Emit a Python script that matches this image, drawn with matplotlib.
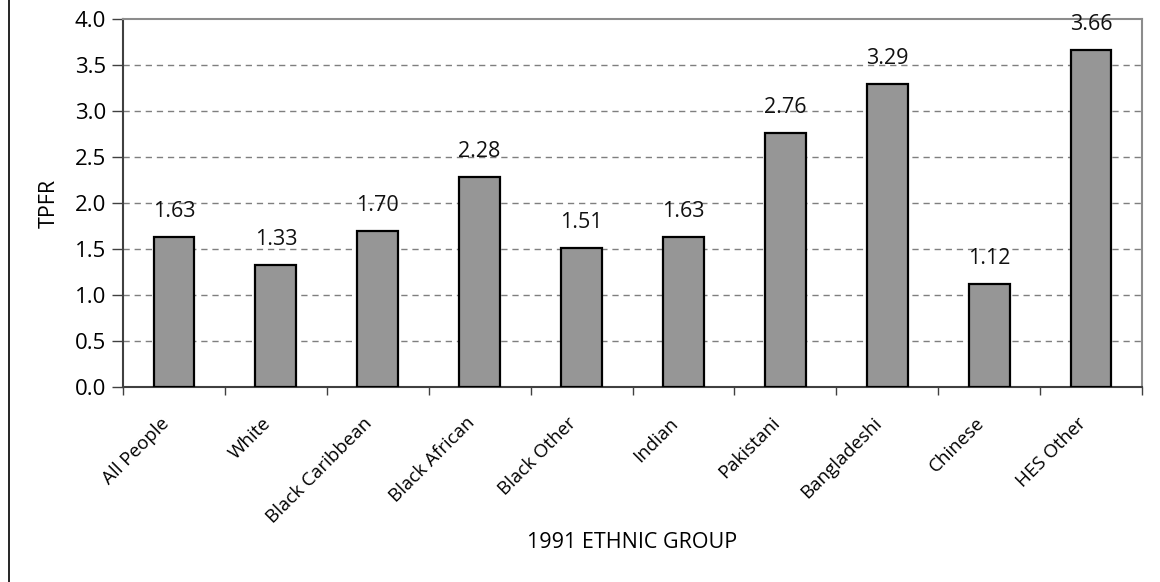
import matplotlib
matplotlib.use("Agg")
import matplotlib.pyplot as plt
import matplotlib.transforms as mtransforms
from matplotlib.lines import Line2D
import numpy as np

groups = ["All People", "White", "Black Caribbean", "Black African", "Black Other",
          "Indian", "Pakistani", "Bangladeshi", "Chinese", "HES Other"]
tpfr = [1.63, 1.33, 1.70, 2.28, 1.51, 1.63, 2.76, 3.29, 1.12, 3.66]
y_ticks = [0.0, 0.5, 1.0, 1.5, 2.0, 2.5, 3.0, 3.5, 4.0]

plt.rcParams["font.family"] = ["Open Sans", "DejaVu Sans"]

W, H, DPI = 1160, 582, 100
fig = plt.figure(figsize=(W / DPI, H / DPI), dpi=DPI)
ax = fig.add_axes([123 / W, 1 - 387 / H, (1142 - 123) / W, (387 - 19) / H])

x = np.arange(len(groups))
bars = ax.bar(x, tpfr, width=0.4, color="#969696", edgecolor="black",
              linewidth=1.6, zorder=3)

ax.set_xlim(-0.5, len(groups) - 0.5)
ax.set_ylim(0, 4.0)
ax.set_yticks(y_ticks)
ax.set_yticklabels([f"{v:.1f}" for v in y_ticks])

# dashed horizontal gridlines (the top is covered by the frame)
for v in y_ticks[1:-1]:
    ax.axhline(v, color="#7f7f7f", linewidth=1.0, linestyle=(0, (4.5, 3.5)), zorder=1)

# value labels above bars
for xi, v in zip(x, tpfr):
    ax.annotate(f"{v:.2f}", (xi, v), xytext=(0, 15), textcoords="offset pixels",
                ha="center", va="bottom", fontsize=15.5, color="#111111")

# category ticks sit on the boundaries between groups
ax.set_xticks(x)
ax.set_xticks(np.arange(-0.5, len(groups), 1.0), minor=True)
ax.tick_params(axis="x", which="major", length=0, pad=24, labelsize=13.5)
ax.tick_params(axis="x", which="minor", length=6, width=1.0, color="#404040")
ax.set_xticklabels(groups, rotation=45, ha="right", va="center", rotation_mode="anchor")
shift = mtransforms.ScaledTranslation(-8 / DPI, 0, fig.dpi_scale_trans)
for lbl in ax.get_xticklabels():
    lbl.set_transform(lbl.get_transform() + shift)

ax.tick_params(axis="y", length=8, width=1.0, color="#404040", labelsize=16, pad=4)

for side in ("left", "bottom"):
    ax.spines[side].set_color("#404040")
    ax.spines[side].set_linewidth(1.5)
for side in ("top", "right"):
    ax.spines[side].set_color("#8c8c8c")
    ax.spines[side].set_linewidth(1.5)

ax.set_xlabel("1991 ETHNIC GROUP", fontsize=15.5, labelpad=0)
ax.xaxis.set_label_coords(0.5, -(543 - 387) / (387 - 19), transform=ax.transAxes)
ax.xaxis.label.set_va("center")
ax.set_ylabel("TPFR", fontsize=15.5)
ax.yaxis.set_label_coords(-(123 - 49) / (1142 - 123), 0.5)
ax.yaxis.label.set_va("center")

# left border of the figure
fig.add_artist(Line2D([8.5 / W, 8.5 / W], [0, 1], color="black", linewidth=1.2,
                      transform=fig.transFigure))

fig.savefig("out.png", dpi=DPI)
